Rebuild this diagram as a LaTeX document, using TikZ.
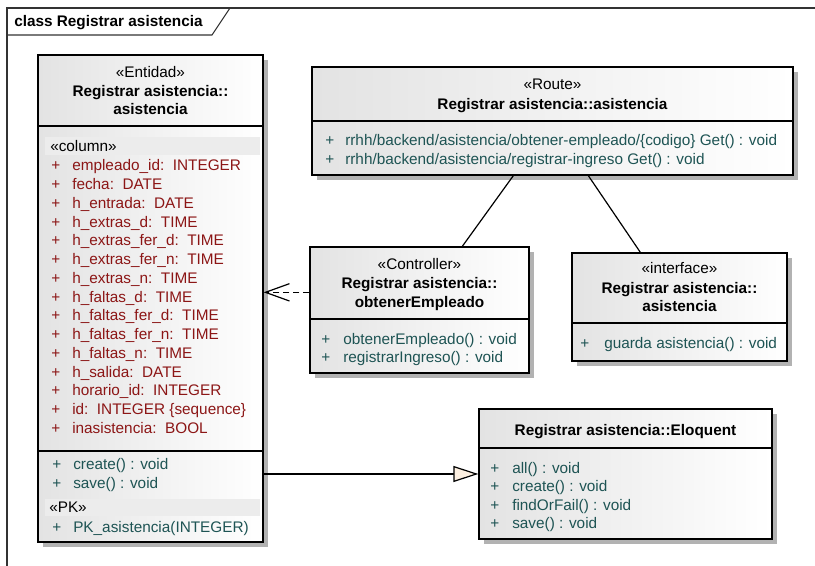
\documentclass[tikz,border=0pt]{standalone}
\usepackage{fontspec}
\setmainfont{Liberation Sans}
\usetikzlibrary{fit,shadows,calc,arrows.meta}
\definecolor{attred}{RGB}{140,22,22}
\definecolor{opteal}{RGB}{30,84,84}
\definecolor{stereo}{RGB}{236,236,236}
\definecolor{gencream}{RGB}{253,240,225}
\newcommand\umlsize{\fontsize{11.5}{14}\selectfont}
\tikzset{umlclass/.style={x=0.75pt,y=-0.75pt,font=\umlsize},
  umltxt/.style={inner sep=0pt,text height=8.2pt,text depth=0pt},
  clsname/.style={umltxt,font=\umlsize\bfseries},
  attr/.style={umltxt,anchor=west,attred},
  oper/.style={umltxt,anchor=west,opteal},
  classbox/.style={draw=black,line width=1pt,inner sep=0pt,left color=black!11,right color=white,
    drop shadow={shadow xshift=3.5pt,shadow yshift=-3.5pt,fill=black!30,opacity=1}},
  divline/.style={line width=0.9pt},
  assoc/.style={line width=0.9pt},
  gen/.style={line width=0.9pt,-{Triangle[length=18.75pt,width=12pt,fill=gencream]}},
  dep/.style={line width=0.9pt,dash pattern=on 4.5pt off 3pt,-{Straight Barb[length=18pt,width=13pt]}},
  diagframe/.style={black!80,line width=0.8pt}}

\begin{document}
\begin{tikzpicture}[umlclass]
  \useasboundingbox (0,0) rectangle (815,566);
  % frame
  \draw[diagframe] (815,8) -- (7,8) -- (7,566);
  \draw[diagframe] (7,35) -- (212,35) -- (230,8);
  \node[clsname,anchor=west] (frametitle) at (14,21.5) {class Registrar asistencia};

  % entity
  \node[classbox,fit={(38,55)(263,542)}] (ent) {};
  \node[umltxt] (entster) at (150.5,72) {«Entidad»};
  \node[clsname] (entname) at (150.5,91) {Registrar asistencia::};
  \node[clsname] (entname2) at (150.5,109.5) {asistencia};
  \draw[divline] (38,126) -- (263,126);
  \fill[stereo] (45,137) rectangle (260,155);
  \node[umltxt,anchor=west] (colster) at (50,146) {«column»};
  \foreach \cname/\ctype [count=\i from 0] in {empleado\_id/INTEGER, fecha/DATE, h\_entrada/DATE,
      h\_extras\_d/TIME, h\_extras\_fer\_d/TIME, h\_extras\_fer\_n/TIME, h\_extras\_n/TIME,
      h\_faltas\_d/TIME, h\_faltas\_fer\_d/TIME, h\_faltas\_fer\_n/TIME, h\_faltas\_n/TIME,
      h\_salida/DATE, horario\_id/INTEGER, id/INTEGER \{sequence\}, inasistencia/BOOL}{
    \node[attr] (attp\i) at (51,{165.5+18.75*\i}) {+};
    \node[attr] (att\i) at (72,{165.5+18.75*\i}) {\cname:\ \ \ctype};
  }
  \draw[divline] (38,451) -- (263,451);
  \node[oper] (entp1) at (52,464) {+};
  \node[oper] (entop1) at (73,464) {create() : void};
  \node[oper] (entp2) at (52,483) {+};
  \node[oper] (entop2) at (73,483) {save() : void};
  \fill[stereo] (45,499) rectangle (260,516);
  \node[umltxt,anchor=west] (pkster) at (49,507.5) {«PK»};
  \node[oper] (entp3) at (52,527) {+};
  \node[oper] (entop3) at (73,527) {PK\_asistencia(INTEGER)};

  % route
  \node[classbox,fit={(312,67)(793,175)}] (route) {};
  \node[umltxt] (routester) at (552.5,84) {«Route»};
  \node[clsname] (routename) at (552.5,104) {Registrar asistencia::asistencia};
  \draw[divline] (312,121) -- (793,121);
  \node[oper] (routep1) at (325,140) {+};
  \node[oper] (routeop1) at (345,140) {rrhh/backend/asistencia/obtener-empleado/\{codigo\} Get() : void};
  \node[oper] (routep2) at (325,159) {+};
  \node[oper] (routeop2) at (345,159) {rrhh/backend/asistencia/registrar-ingreso Get() : void};

  % controller
  \node[classbox,fit={(310,247)(529,373)}] (ctl) {};
  \node[umltxt] (ctlster) at (419.5,264) {«Controller»};
  \node[clsname] (ctlname) at (419.5,283) {Registrar asistencia::};
  \node[clsname] (ctlname2) at (419.5,302.5) {obtenerEmpleado};
  \draw[divline] (310,319) -- (529,319);
  \node[oper] (ctlp1) at (321,339) {+};
  \node[oper] (ctlop1) at (343,339) {obtenerEmpleado() : void};
  \node[oper] (ctlp2) at (321,357.5) {+};
  \node[oper] (ctlop2) at (343,357.5) {registrarIngreso() : void};

  % interface
  \node[classbox,fit={(572,253)(787,361)}] (ifc) {};
  \node[umltxt] (ifcster) at (679.5,268) {«interface»};
  \node[clsname] (ifcname) at (679.5,288) {Registrar asistencia::};
  \node[clsname] (ifcname2) at (679.5,306) {asistencia};
  \draw[divline] (572,323) -- (787,323);
  \node[oper] (ifcp1) at (580,343) {+};
  \node[oper] (ifcop1) at (604,343) {guarda asistencia() : void};

  % eloquent
  \node[classbox,fit={(479,409)(772,539)}] (elo) {};
  \node[clsname] (eloname) at (625.5,430) {Registrar asistencia::Eloquent};
  \draw[divline] (479,448) -- (772,448);
  \foreach \op [count=\i] in {all() : void, create() : void, findOrFail() : void, save() : void}{
    \node[oper] (elop\i) at (490,{449.5+18.5*\i}) {+};
    \node[oper] (eloop\i) at (512,{449.5+18.5*\i}) {\op};
  }

  % connectors
  \draw[assoc] ($(route.south west)+(202,0)$) -- ($(ctl.north west)+(153,0)$);
  \draw[assoc] ($(route.south west)+(277,0)$) -- ($(ifc.north west)+(69,0)$);
  \coordinate (depfrom) at ($(ctl.north west)+(0,46)$);
  \draw[dep] (depfrom) -- (depfrom -| ent.east);
  \draw[gen] (ent.east |- elo.west) -- (elo.west);
\end{tikzpicture}
\end{document}
